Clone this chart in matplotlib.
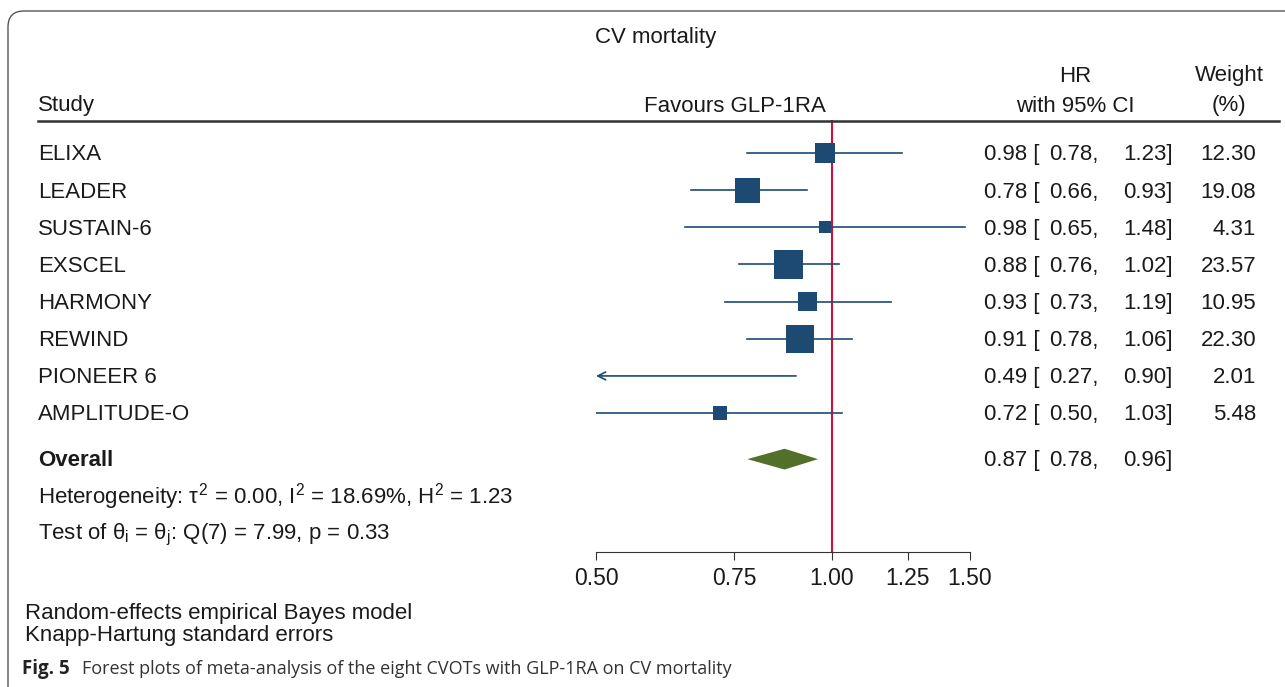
import numpy as np
import matplotlib
matplotlib.use('Agg')
import matplotlib.pyplot as plt
from matplotlib import transforms
from matplotlib.patches import FancyBboxPatch, Polygon
from matplotlib.ticker import NullLocator

plt.rcParams['font.family'] = ['Liberation Sans', 'DejaVu Sans']
plt.rcParams['mathtext.fontset'] = 'custom'
plt.rcParams['mathtext.rm'] = 'Liberation Sans'
plt.rcParams['mathtext.it'] = 'Liberation Sans'

studies = ['ELIXA', 'LEADER', 'SUSTAIN-6', 'EXSCEL', 'HARMONY', 'REWIND',
           'PIONEER 6', 'AMPLITUDE-O']
hr = [0.98, 0.78, 0.98, 0.88, 0.93, 0.91, 0.49, 0.72]
lo = [0.78, 0.66, 0.65, 0.76, 0.73, 0.78, 0.27, 0.50]
hi = [1.23, 0.93, 1.48, 1.02, 1.19, 1.06, 0.90, 1.03]
weight = [12.30, 19.08, 4.31, 23.57, 10.95, 22.30, 2.01, 5.48]
overall = (0.87, 0.78, 0.96)
ticks = [0.50, 0.75, 1.00, 1.25, 1.50]

W, H = 1285, 687
navy = '#1d4a73'
text_c = '#1a1a1a'

fig = plt.figure(figsize=(W / 100, H / 100), dpi=100)
# pixel coords, origin top-left
px = transforms.Affine2D().scale(1 / W, -1 / H).translate(0, 1) + fig.transFigure

# rounded frame
fig.patches.append(FancyBboxPatch((8, 11), 1400, 800, boxstyle='round,pad=0,rounding_size=16',
                                  transform=px, fc='none', ec='#555555', lw=1.0))

ax = fig.add_axes([596 / W, 1 - 552 / H, (970 - 596) / W, (552 - 120) / H])
ax.set_xscale('log')
ax.set_xlim(0.5, 1.5)
ax.set_ylim(10.74, -0.89)
ax.patch.set_alpha(0)

rows = np.arange(len(studies))
overall_y = 8.24

ax.axvline(1.0, color='#d0103a', lw=1.5, zorder=1)

for i in rows:
    if lo[i] < 0.5:
        ax.annotate('', xy=(0.5, i), xytext=(hi[i], i),
                    arrowprops=dict(arrowstyle='->', color=navy, lw=1.2,
                                    shrinkA=0, shrinkB=0, mutation_scale=14))
    else:
        ax.plot([lo[i], hi[i]], [i, i], color=navy, lw=1.2, zorder=2)
ax.scatter(hr, rows, s=np.array(weight) * 17.5, marker='s', color=navy,
           zorder=3, linewidths=0)

d = 0.28
ax.add_patch(Polygon([(overall[1], overall_y), (overall[0], overall_y - d),
                      (overall[2], overall_y), (overall[0], overall_y + d)],
                     closed=True, fc='#52702a', ec='none', zorder=3))

for s in ['top', 'left', 'right']:
    ax.spines[s].set_visible(False)
ax.spines['bottom'].set_color('#333333')
ax.set_yticks([])
ax.set_xticks(ticks)
ax.set_xticklabels([f'{t:.2f}' for t in ticks])
ax.xaxis.set_minor_locator(NullLocator())
ax.tick_params(axis='x', length=6, color='#333333', labelsize=16.5,
               labelcolor=text_c, pad=5)

# text columns (small downward nudge so text centres sit on the rows)
rowt = transforms.blended_transform_factory(px, ax.transData)
fs = 16
dy = 0.05
for i in rows:
    y = i + dy
    ax.text(38, y, studies[i], transform=rowt, fontsize=fs, va='center', color=text_c)
    ax.text(984, y, f'{hr[i]:.2f} [', transform=rowt, fontsize=fs, va='center', color=text_c)
    ax.text(1098, y, f'{lo[i]:.2f},', transform=rowt, fontsize=fs, va='center', ha='right', color=text_c)
    ax.text(1173, y, f'{hi[i]:.2f}]', transform=rowt, fontsize=fs, va='center', ha='right', color=text_c)
    ax.text(1256, y, f'{weight[i]:.2f}', transform=rowt, fontsize=fs, va='center', ha='right', color=text_c)

yo = overall_y + dy
ax.text(38, yo, 'Overall', transform=rowt, fontsize=fs, va='center',
        fontweight='bold', color=text_c)
ax.text(984, yo, f'{overall[0]:.2f} [', transform=rowt, fontsize=fs, va='center', color=text_c)
ax.text(1098, yo, f'{overall[1]:.2f},', transform=rowt, fontsize=fs, va='center', ha='right', color=text_c)
ax.text(1173, yo, f'{overall[2]:.2f}]', transform=rowt, fontsize=fs, va='center', ha='right', color=text_c)

ax.text(38, 9.25, r'Heterogeneity: $\tau^2$ = 0.00, I$^2$ = 18.69%, H$^2$ = 1.23',
        transform=rowt, fontsize=fs, va='center', color=text_c)
ax.text(38, 10.29, r'Test of $\theta_\mathrm{i}$ = $\theta_\mathrm{j}$: Q(7) = 7.99, p = 0.33',
        transform=rowt, fontsize=fs, va='center', color=text_c)

# headers
fig.text(656, 38, 'CV mortality', transform=px, fontsize=fs, ha='center', va='center', color=text_c)
fig.text(38, 106, 'Study', transform=px, fontsize=fs, va='center', color=text_c)
fig.text(735, 106, 'Favours GLP-1RA', transform=px, fontsize=fs, ha='center', va='center', color=text_c)
fig.text(1075, 76, 'HR', transform=px, fontsize=fs, ha='center', va='center', color=text_c)
fig.text(1075, 106, 'with 95% CI', transform=px, fontsize=fs, ha='center', va='center', color=text_c)
fig.text(1229, 76, 'Weight', transform=px, fontsize=fs, ha='center', va='center', color=text_c)
fig.text(1229, 106, '(%)', transform=px, fontsize=fs, ha='center', va='center', color=text_c)
fig.add_artist(plt.Line2D([38, 1279], [121, 121], transform=px, color='#333333', lw=1.8))

# footer
fig.text(25, 613, 'Random-effects empirical Bayes model', transform=px, fontsize=16, va='center', color=text_c)
fig.text(25, 636, 'Knapp-Hartung standard errors', transform=px, fontsize=16, va='center', color=text_c)
fig.text(22, 669, 'Fig. 5', transform=px, fontsize=13.5, va='center', fontweight='bold',
         family='Open Sans', color='#222222')
fig.text(82, 669, 'Forest plots of meta-analysis of the eight CVOTs with GLP-1RA on CV mortality',
         transform=px, fontsize=13, va='center', family='Open Sans', color='#333333')

fig.savefig('out.png', dpi=100)
